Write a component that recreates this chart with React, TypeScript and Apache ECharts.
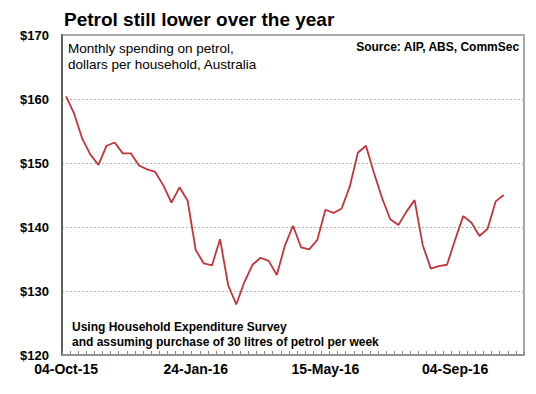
import React, { useEffect, useRef } from "react";
import * as echarts from "echarts";

const START_DATE = "2015-10-04";
const WEEKS = 57;
const values = [
  160.4, 157.7, 153.8, 151.3, 149.7, 152.7, 153.2, 151.5, 151.5, 149.6,
  149.0, 148.6, 146.5, 143.8, 146.2, 144.1, 136.4, 134.3, 134.0, 138.1,
  130.9, 127.9, 131.4, 134.1, 135.2, 134.7, 132.5, 137.1, 140.2, 136.8,
  136.5, 138.0, 142.7, 142.2, 142.9, 146.3, 151.6, 152.7, 148.4, 144.5,
  141.2, 140.3, 142.4, 144.2, 137.2, 133.5, 133.9, 134.1, 138.0, 141.7,
  140.7, 138.6, 139.7, 144.0, 145.0,
];
const yTicks = [120, 130, 140, 150, 160, 170];
const titleText = "Petrol still lower over the year";
const subtitleLines = ["Monthly spending on petrol,", "dollars per household, Australia"];
const sourceText = "Source: AIP, ABS, CommSec";
const noteLines = [
  "Using Household Expenditure Survey",
  "and assuming purchase of 30 litres of petrol per week",
];

const MONTHS = ["Jan", "Feb", "Mar", "Apr", "May", "Jun", "Jul", "Aug", "Sep", "Oct", "Nov", "Dec"];
function weekLabels(start: string, n: number): string[] {
  const base = new Date(start + "T00:00:00Z").getTime();
  const out: string[] = [];
  for (let i = 0; i < n; i++) {
    const d = new Date(base + i * 7 * 86400000);
    const dd = String(d.getUTCDate()).padStart(2, "0");
    const yy = String(d.getUTCFullYear() % 100).padStart(2, "0");
    out.push(`${dd}-${MONTHS[d.getUTCMonth()]}-${yy}`);
  }
  return out;
}
const categories = weekLabels(START_DATE, WEEKS);

const FONT = "Liberation Sans, Arial, sans-serif";

export default function App() {
  const ref = useRef<HTMLDivElement>(null);
  useEffect(() => {
    document.body.style.margin = "0";
    if (!ref.current) return;
    const chart = echarts.init(ref.current, null, { renderer: "svg" });
    chart.setOption({
      animation: false,
      backgroundColor: "#ffffff",
      textStyle: { fontFamily: FONT },
      grid: {
        left: 62,
        right: 12,
        top: 35,
        bottom: 39,
        show: true,
        borderColor: "#8c8c8c",
        borderWidth: 1.5,
        backgroundColor: "transparent",
      },
      xAxis: {
        type: "category",
        data: categories,
        boundaryGap: true,
        axisLine: { show: true, lineStyle: { color: "#8c8c8c", width: 1.5 } },
        axisTick: { show: true, interval: 0, inside: true, length: 4, lineStyle: { color: "#8c8c8c" } },
        axisLabel: {
          interval: 15,
          color: "#000",
          fontWeight: "bold",
          fontSize: 14,
          fontFamily: FONT,
          margin: 7,
        },
        splitLine: { show: false },
      },
      yAxis: {
        type: "value",
        min: yTicks[0],
        max: yTicks[yTicks.length - 1],
        interval: 10,
        axisLine: { show: true, lineStyle: { color: "#606060", width: 2 } },
        axisTick: { show: false },
        axisLabel: {
          color: "#000",
          fontWeight: "bold",
          fontSize: 13,
          fontFamily: FONT,
          margin: 13,
          formatter: (v: number) => "$" + v,
        },
        splitLine: { show: true, lineStyle: { color: "#b4b4b4", type: [2, 2], width: 1 } },
      },
      series: [
        {
          type: "line",
          data: values,
          symbol: "none",
          lineStyle: { color: "#c4343c", width: 1.8 },
        },
      ],
      graphic: [
        {
          type: "text",
          left: 64,
          top: 10,
          style: { text: titleText, font: `bold 19px ${FONT}`, fill: "#000" },
        },
        {
          type: "text",
          left: 68,
          top: 40,
          style: {
            text: subtitleLines.join("\n"),
            font: `13.5px ${FONT}`,
            lineHeight: 16.5,
            fill: "#000",
          },
        },
        {
          type: "text",
          right: 16,
          top: 41,
          style: { text: sourceText, font: `bold 12px ${FONT}`, fill: "#000" },
        },
        {
          type: "text",
          left: 72,
          top: 320,
          style: {
            text: noteLines.join("\n"),
            font: `bold 12px ${FONT}`,
            lineHeight: 14.5,
            fill: "#000",
          },
        },
      ],
    });
    return () => chart.dispose();
  }, []);
  return <div ref={ref} style={{ width: 536, height: 394 }} />;
}
